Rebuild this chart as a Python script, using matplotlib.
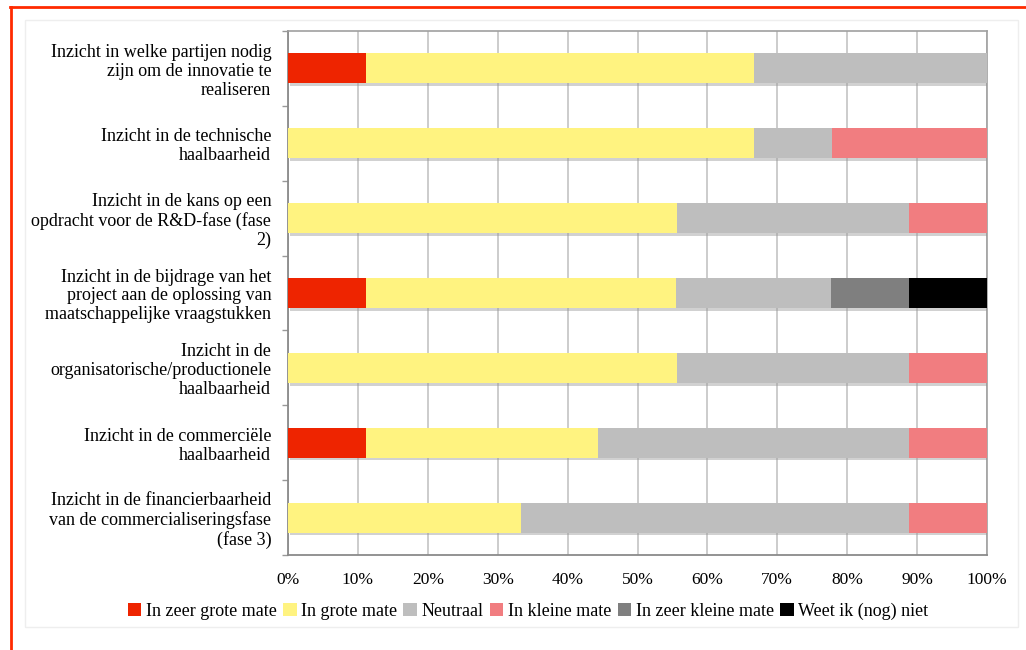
import matplotlib
matplotlib.use("Agg")
import matplotlib.pyplot as plt
import matplotlib.patheffects as pe
from matplotlib.lines import Line2D
from matplotlib.patches import Rectangle, Patch
from matplotlib.ticker import PercentFormatter
import numpy as np

# Categories (top to bottom)
categories = [
    "Inzicht in welke partijen nodig\nzijn om de innovatie te\nrealiseren",
    "Inzicht in de technische\nhaalbaarheid",
    "Inzicht in de kans op een\nopdracht voor de R&D-fase (fase\n2)",
    "Inzicht in de bijdrage van het\nproject aan de oplossing van\nmaatschappelijke vraagstukken",
    "Inzicht in de\norganisatorische/productionele\nhaalbaarheid",
    "Inzicht in de commerciële\nhaalbaarheid",
    "Inzicht in de financierbaarheid\nvan de commercialiseringsfase\n(fase 3)",
]

series_names = ["In zeer grote mate", "In grote mate", "Neutraal",
                "In kleine mate", "In zeer kleine mate", "Weet ik (nog) niet"]

# percentages per category (same order as categories)
zeer_grote = [11.1, 0.0, 0.0, 11.1, 0.0, 11.1, 0.0]
grote = [55.6, 66.7, 55.6, 44.4, 55.6, 33.3, 33.3]
neutraal = [33.3, 11.1, 33.3, 22.2, 33.3, 44.5, 55.6]
kleine = [0.0, 22.2, 11.1, 0.0, 11.1, 11.1, 11.1]
zeer_kleine = [0.0, 0.0, 0.0, 11.1, 0.0, 0.0, 0.0]
weet_niet = [0.0, 0.0, 0.0, 11.2, 0.0, 0.0, 0.0]

colors = ["#EE2400", "#FFF380", "#BEBEBE", "#F17D80", "#7F7F7F", "#000000"]

plt.rcParams['font.family'] = ['Liberation Serif', 'DejaVu Serif']

fig = plt.figure(figsize=(10.26, 6.5), dpi=100)

# light panel frame and red page border
fig.patches.append(Rectangle((25 / 1026, 1 - 627 / 650), 993 / 1026, 607 / 650,
                             transform=fig.transFigure, fill=False,
                             edgecolor="#eeeeee", linewidth=1))
fig.lines.append(Line2D([10 / 1026, 1], [1 - 6.5 / 650, 1 - 6.5 / 650],
                        transform=fig.transFigure, color="#FF2A00", linewidth=2))
fig.lines.append(Line2D([11 / 1026, 11 / 1026], [0, 1 - 6.5 / 650],
                        transform=fig.transFigure, color="#FF2A00", linewidth=2))

ax = fig.add_axes([288 / 1026, 1 - 555 / 650, 699 / 1026, 524 / 650])

y = np.arange(len(categories))
data = [zeer_grote, grote, neutraal, kleine, zeer_kleine, weet_niet]
left = np.zeros(len(categories))
shadow = [pe.SimplePatchShadow(offset=(1.5, -2), shadow_rgbFace="#999999", alpha=0.45),
          pe.Normal()]
for vals, name, col in zip(data, series_names, colors):
    vals = np.array(vals)
    bars = ax.barh(y, vals, left=left, height=0.4, color=col, zorder=3)
    for b in bars:
        if b.get_width() > 0:
            b.set_path_effects(shadow)
    left += vals

ax.set_xlim(0, 100)
ax.set_ylim(len(categories) - 0.5, -0.5)
ax.set_xticks(np.arange(0, 101, 10))
ax.xaxis.set_major_formatter(PercentFormatter(decimals=0))
ax.set_yticks(y)
ax.set_yticklabels(categories, ha="right", linespacing=1.15)
ax.set_yticks(np.arange(-0.5, len(categories), 1), minor=True)

ax.tick_params(axis="y", which="major", length=0, pad=12, labelsize=13)
ax.tick_params(axis="y", which="minor", length=4, color="#999999", width=1)
ax.tick_params(axis="x", length=0, pad=12, labelsize=12.5)

ax.grid(axis="x", color="#c8c8c8", linewidth=1.3, zorder=0)
ax.set_axisbelow(True)
for side in ["left", "bottom"]:
    ax.spines[side].set_color("#8a8a8a")
    ax.spines[side].set_linewidth(1.3)
for side in ["top", "right"]:
    ax.spines[side].set_color("#a0a0a0")
    ax.spines[side].set_linewidth(1.2)

handles = [Patch(facecolor=c, edgecolor="none") for c in colors]
fig.legend(handles, series_names, loc="center",
           bbox_to_anchor=(528 / 1026, 1 - 611 / 650), ncol=6,
           frameon=False, fontsize=13, handlelength=0.75, handleheight=0.75,
           handletextpad=0.25, columnspacing=0.35)

fig.savefig("out.png", dpi=100)
